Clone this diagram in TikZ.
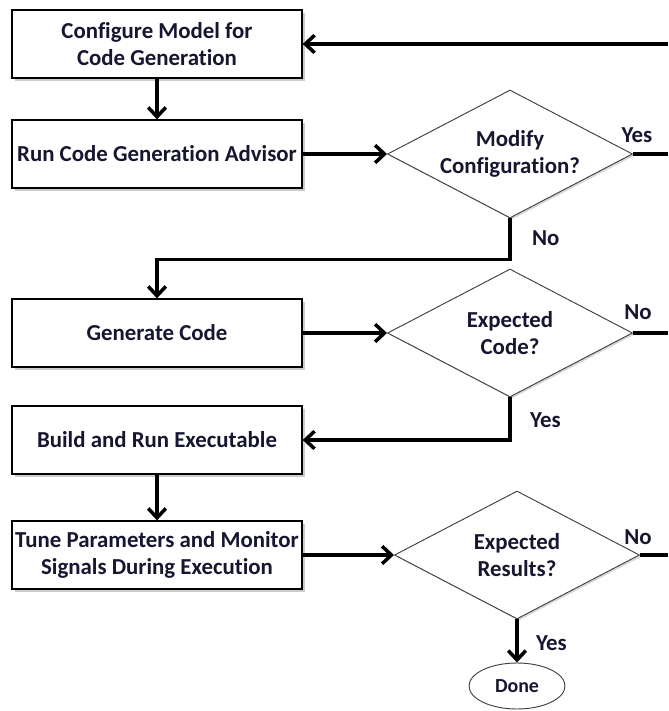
\documentclass[tikz,border=0pt]{standalone}
\usepackage{fontspec}
\setmainfont{Carlito}[Ligatures=NoCommon]
\usetikzlibrary{shapes.geometric,arrows.meta,shadows}
\definecolor{ink}{RGB}{22,22,48}
\tikzset{
  txt/.style={font=\bfseries\fontsize{19.5}{23}\selectfont, text=ink},
  stepbox/.style={draw, line width=1.1pt, fill=white, txt, align=center,
    inner sep=1pt, minimum width=8.7cm, minimum height=2.04cm,
    drop shadow={shadow xshift=2.5pt, shadow yshift=-2.5pt, fill=black!40}},
  ask/.style={diamond, draw=black!75, line width=0.8pt, fill=white, txt,
    align=center, inner sep=0pt, aspect=2,
    minimum width=7.35cm, minimum height=3.84cm,
    drop shadow={shadow xshift=1.5pt, shadow yshift=-1.5pt, fill=black!30}},
  finish/.style={ellipse, draw=black!75, line width=0.8pt, fill=white, txt,
    font=\bfseries\fontsize{17}{20}\selectfont,
    minimum width=2.88cm, minimum height=1.38cm},
  flow/.style={line width=3pt, -{Straight Barb[length=8pt,width=15pt]}},
  plain/.style={line width=3pt},
  lab/.style={txt}
}
\begin{document}
\begin{tikzpicture}[x=0.03cm, y=-0.03cm]
  \useasboundingbox (0,0) rectangle (668,711);
  % steps
  \node[stepbox] (config) at (157,44) {Configure Model for\\Code Generation};
  \node[stepbox] (advisor) at (157,154) {Run Code Generation Advisor};
  \node[stepbox] (gencode) at (157,333) {Generate Code};
  \node[stepbox] (build) at (157,440) {Build and Run Executable};
  \node[stepbox] (tune) at (157,555) {Tune Parameters and Monitor\\Signals During Execution};
  % decisions
  \node[ask] (modify) at (510,154) {Modify\\Configuration?};
  \node[ask] (expcode) at (510,333) {Expected\\Code?};
  \node[ask] (expres) at (517,555) {Expected\\Results?};
  \node[finish] (done) at (517,686) {Done};
  % loose ends on the right
  \coordinate (r0) at (668,44);
  \coordinate (r1) at (668,154);
  \coordinate (r2) at (668,333);
  \coordinate (r3) at (668,555);
  % labels
  \node[lab] (yes1) at (637,135) {Yes};
  \node[lab, anchor=west] (no1) at (528,238) {No};
  \node[lab] (no2) at (638,312) {No};
  \node[lab, anchor=west] (yes2) at (526,420) {Yes};
  \node[lab] (no3) at (638,537) {No};
  \node[lab, anchor=west] (yes3) at (532,643) {Yes};
  % connectors
  \draw[flow] (r0) -- (config);
  \draw[flow] (config) -- (advisor);
  \draw[flow] (advisor) -- (modify);
  \draw[plain] (modify.east) -- (r1);
  \draw[flow] (modify.south) -- ++(0,41) -| (gencode.north);
  \draw[flow] (gencode) -- (expcode);
  \draw[plain] (expcode.east) -- (r2);
  \draw[flow] (expcode.south) |- (build.east);
  \draw[flow] (build) -- (tune);
  \draw[flow] (tune) -- (expres);
  \draw[plain] (expres.east) -- (r3);
  \draw[flow] (expres) -- (done);
\end{tikzpicture}
\end{document}
